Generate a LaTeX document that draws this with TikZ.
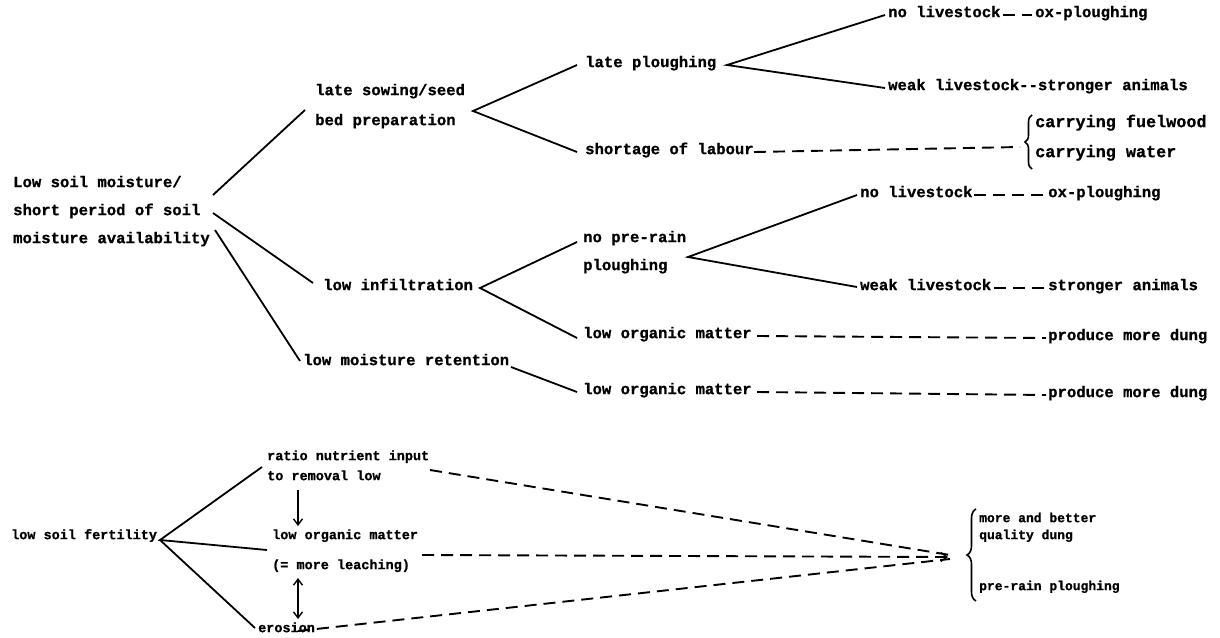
\documentclass[tikz,border=0pt]{standalone}
\usepackage{fontspec}
\newfontfamily\tw{Liberation Mono}[BoldFeatures={FakeBold=0.9}]
\usetikzlibrary{arrows.meta,decorations.pathreplacing}
\tikzset{
  T/.style={inner sep=0pt, anchor=west, text height=1ex, text depth=0pt,
            font=\tw\bfseries\fontsize{15.6}{18}\selectfont},
  TL/.style={T, font=\tw\bfseries\fontsize{16.8}{18}\selectfont},
  B/.style={T, font=\tw\bfseries\fontsize{13.5}{16}\selectfont},
  C/.style={T, font=\tw\bfseries\fontsize{13}{15}\selectfont},
  link/.style={line width=1.8pt},
  dlink/.style={line width=1.9pt, dash pattern=on 12pt off 7pt},
  tip/.style={-{Straight Barb[length=6pt,width=9pt,line width=1.4pt]}},
  dtip/.style={{Straight Barb[length=6pt,width=9pt,line width=1.4pt]}-{Straight Barb[length=6pt,width=9pt,line width=1.4pt]}},
  brc/.style={line width=1.6pt, decorate, decoration={brace, amplitude=#1}}
}
\begin{document}
\begin{tikzpicture}[x=1pt,y=-1pt]
\fill[white] (0,0) rectangle (1220,637);
\useasboundingbox (0,0) rectangle (1220,637);

% ---------- upper tree: text ----------
\node[T] (lsm1) at (13,185) {Low soil moisture/};
\node[T] (lsm2) at (13,213) {short period of soil};
\node[T] (lsm3) at (13,241) {moisture availability};
\node[T] (ls1) at (315,93) {late sowing/seed};
\node[T] (ls2) at (315,123) {bed preparation};
\node[T] (lp) at (585,65) {late ploughing};
\node[T] (sl) at (585,152) {shortage of labour};
\node[T] (nl1) at (888,15) {no livestock};
\node[T] (ox1) at (1035,15) {ox-ploughing};
\node[T] (wl1) at (888,88) {weak livestock-{}-stronger animals};
\node[TL] (cf) at (1035,125) {carrying fuelwood};
\node[TL] (cw) at (1035,155) {carrying water};
\node[T] (li) at (323,288) {low infiltration};
\node[T] (npr1) at (583,240) {no pre-rain};
\node[T] (npr2) at (583,268) {ploughing};
\node[T] (nl2) at (860,195) {no livestock};
\node[T] (ox2) at (1048,195) {ox-ploughing};
\node[T] (wl2) at (860,288) {weak livestock};
\node[T] (sa2) at (1048,288) {stronger animals};
\node[T] (lom1) at (583,336) {low organic matter};
\node[T] (pmd1) at (1048,338) {produce more dung};
\node[T] (lmr) at (303,363) {low moisture retention};
\node[T] (lom2) at (583,392) {low organic matter};
\node[T] (pmd2) at (1048,395) {produce more dung};

% ---------- upper tree: connection points ----------
\path (213,195) coordinate (rA)  (305,110) coordinate (lsA)
      (213,213) coordinate (rB)  (313,283) coordinate (liA)
      (215,230) coordinate (rC)  (300,361) coordinate (lmrA)
      (473,111) coordinate (jLS) (577,65) coordinate (lpA) (577,152) coordinate (slA)
      (727,65) coordinate (jLP) (885,15) coordinate (nl1A) (885,88) coordinate (wl1A)
      (1003,15) coordinate (nl1B) (1032,15) coordinate (ox1A)
      (754,152) coordinate (slB) (1020,147) coordinate (brA)
      (480,288) coordinate (jLI) (577,242) coordinate (nprA) (577,338) coordinate (lom1A)
      (688,257) coordinate (jPL) (857,195) coordinate (nl2A) (857,287) coordinate (wl2A)
      (974,195) coordinate (nl2B) (1046,195) coordinate (ox2A)
      (994,288) coordinate (wl2B) (1046,288) coordinate (sa2A)
      (757,336) coordinate (lom1B) (1046,338) coordinate (pmd1A)
      (511,367) coordinate (lmrB) (577,392) coordinate (lom2A)
      (757,392) coordinate (lom2B) (1046,395) coordinate (pmd2A);

\draw[link] (rA) -- (lsA);
\draw[link] (rB) -- (liA);
\draw[link] (rC) -- (lmrA);
\draw[link] (lpA) -- (jLS) -- (slA);
\draw[link] (nl1A) -- (jLP) -- (wl1A);
\draw[dlink] (nl1B) -- (ox1A);
\draw[dlink] (slB) -- (brA);
\draw[brc=7pt] (1032,169) -- (1032,115);
\draw[link] (nprA) -- (jLI) -- (lom1A);
\draw[link] (nl2A) -- (jPL) -- (wl2A);
\draw[dlink] (nl2B) -- (ox2A);
\draw[dlink] (wl2B) -- (sa2A);
\draw[dlink] (lom1B) -- (pmd1A);
\draw[link] (lmrB) -- (lom2A);
\draw[dlink] (lom2B) -- (pmd2A);

% ---------- lower tree ----------
\node[B] (lsf) at (11,537) {low soil fertility};
\node[B] (rn1) at (267,458) {ratio nutrient input};
\node[B] (rn2) at (267,478) {to removal low};
\node[B] (lom3) at (272,537) {low organic matter};
\node[B] (ml) at (272,567) {(= more leaching)};
\node[B] (er) at (258,630) {erosion};
\node[C] (mb1) at (979,520) {more and better};
\node[C] (mb2) at (979,537) {quality dung};
\node[C] (prp) at (979,588) {pre-rain ploughing};

\path (160,540) coordinate (jSF) (262,467) coordinate (rnA) (267,550) coordinate (lom3A)
      (255,628) coordinate (erA)
      (298,490) coordinate (arA) (298,526) coordinate (arB)
      (298,578) coordinate (daA) (298,619) coordinate (daB)
      (430,470) coordinate (rnB) (422,555) coordinate (mlB) (298,631) coordinate (erB)
      (950,555) coordinate (cvA) (948,557) coordinate (cvB) (950,559) coordinate (cvC);

\draw[link] (rnA) -- (jSF) -- (lom3A);
\draw[link] (jSF) -- (erA);
\draw[line width=1.4pt, tip] (arA) -- (arB);
\draw[line width=1.4pt, dtip] (daA) -- (daB);
\draw[dlink] (rnB) -- (cvA);
\draw[dlink, tip] (mlB) -- (cvB);
\draw[dlink] (erB) -- (cvC);
\draw[brc=9pt] (976,601) -- (976,509);
\end{tikzpicture}
\end{document}
